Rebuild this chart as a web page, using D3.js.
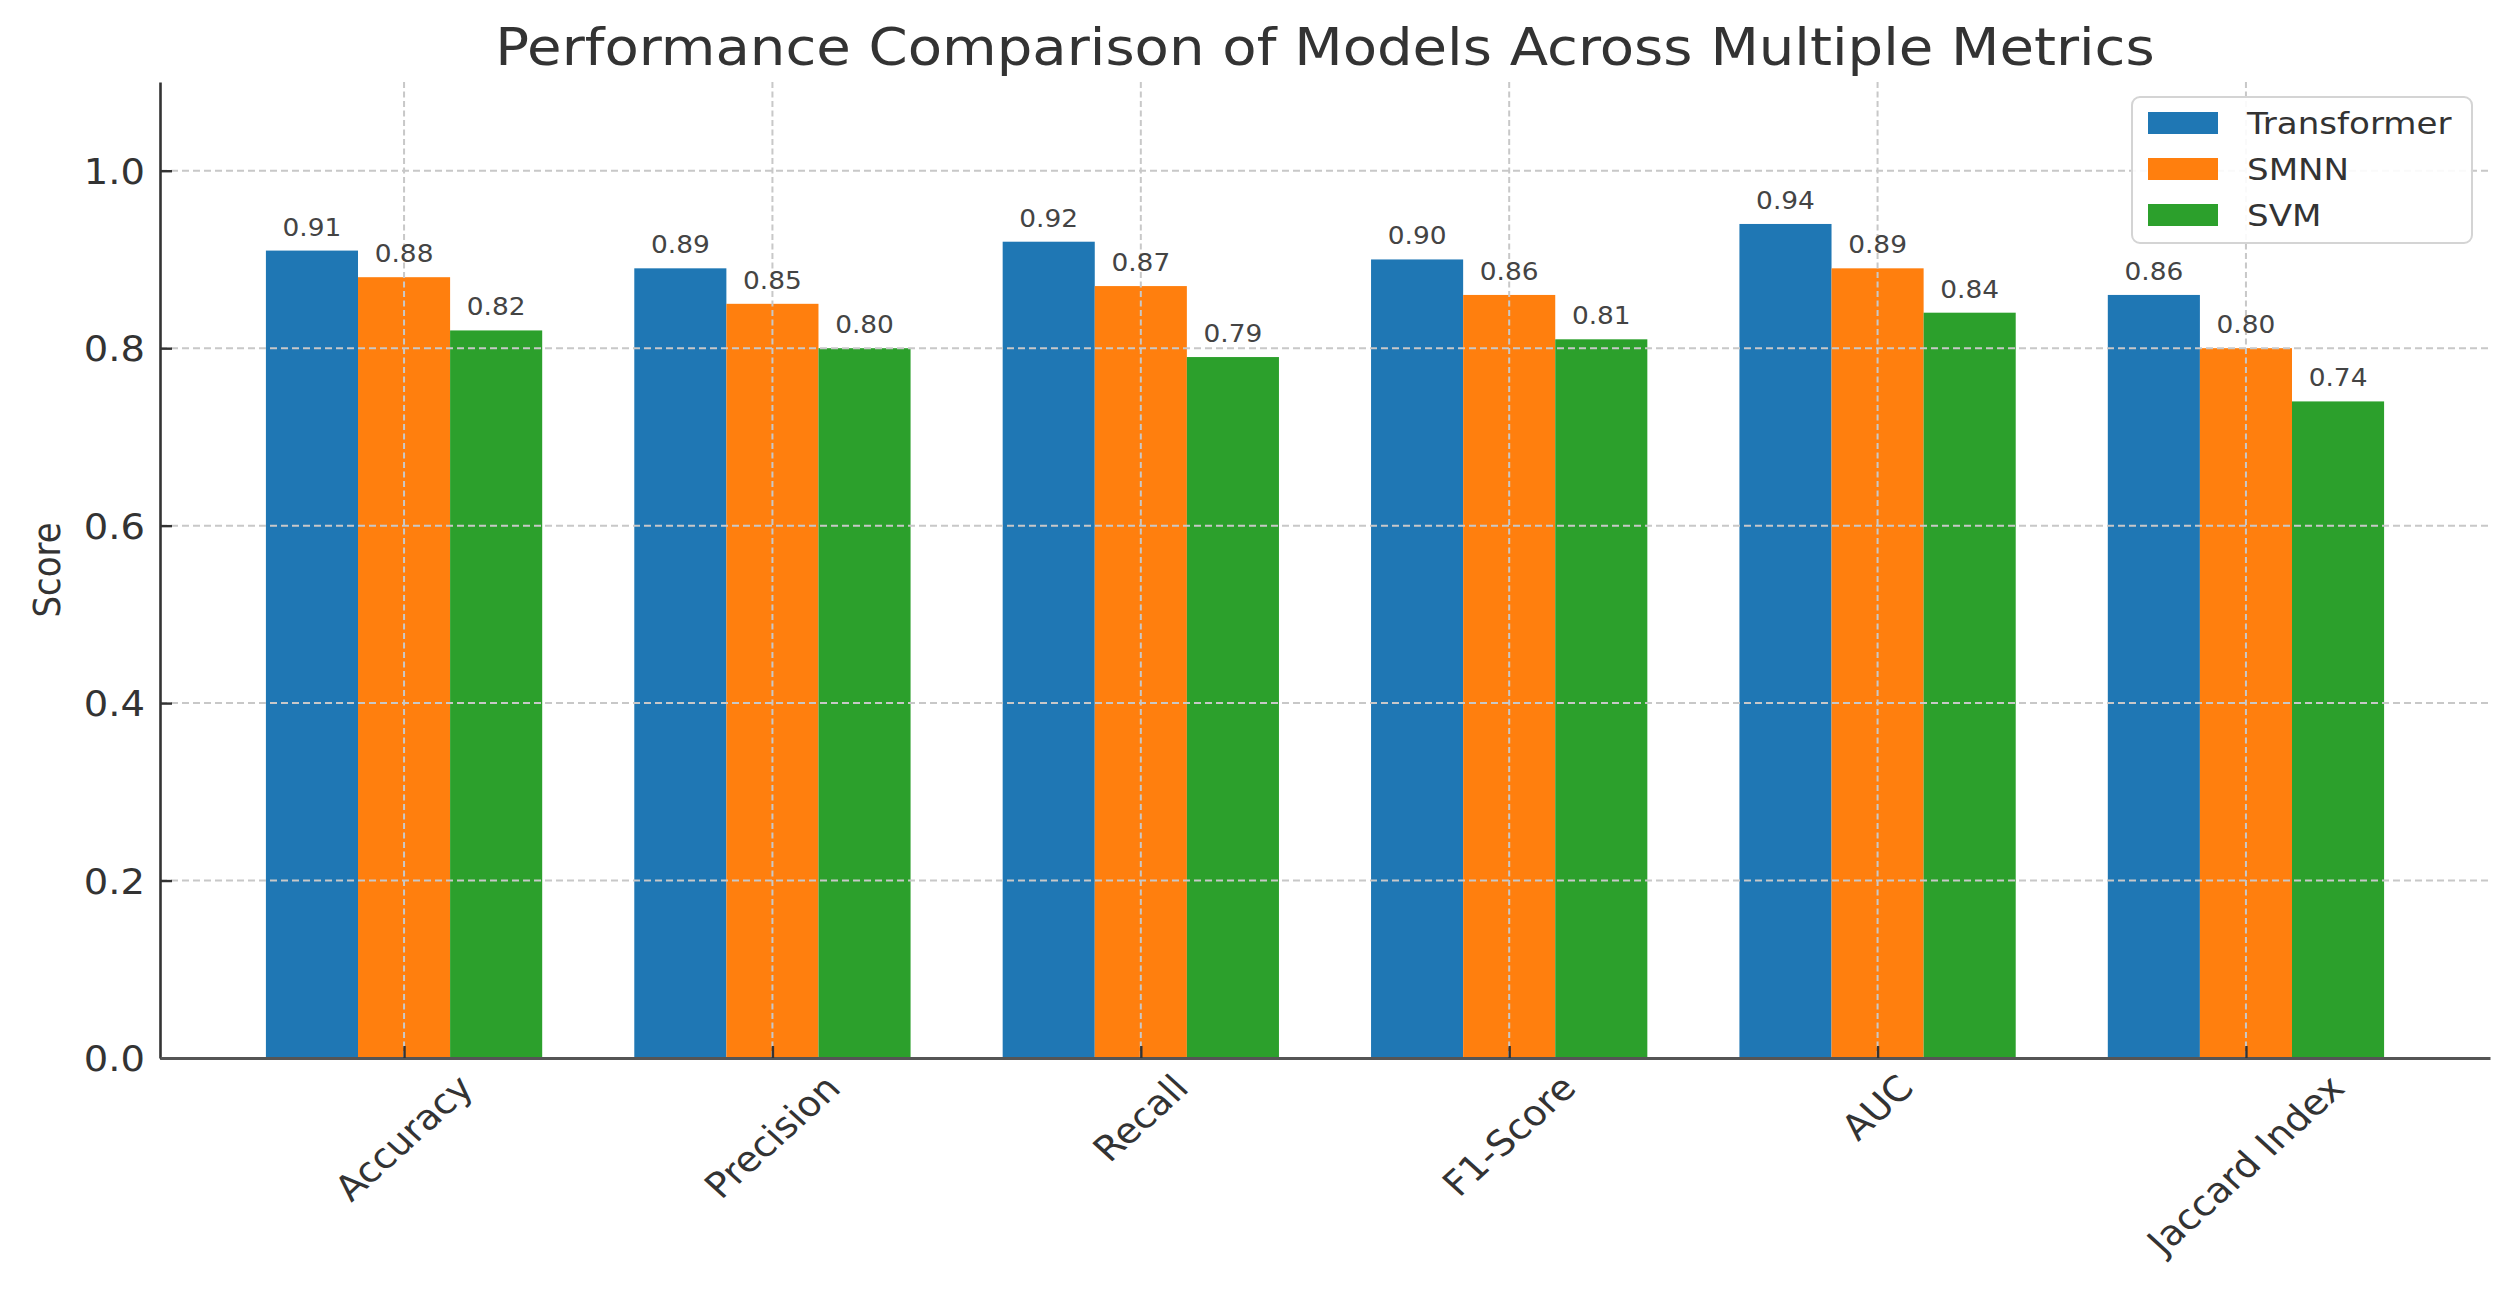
<!DOCTYPE html>
<html>
<head>
<meta charset="utf-8">
<script src="https://cdn.jsdelivr.net/npm/d3@7"></script>
<style>
  html, body { margin: 0; padding: 0; background: #ffffff; }
  svg { display: block; font-family: "DejaVu Sans", sans-serif; }
</style>
</head>
<body>
<svg id="chart" width="2507" height="1296"></svg>
<script>
// ---- data ----
const categories = ["Accuracy", "Precision", "Recall", "F1-Score", "AUC", "Jaccard Index"];
const seriesNames = ["Transformer", "SMNN", "SVM"];
const transformerScores = [0.91, 0.89, 0.92, 0.90, 0.94, 0.86];
const smnnScores = [0.88, 0.85, 0.87, 0.86, 0.89, 0.80];
const svmScores = [0.82, 0.80, 0.79, 0.81, 0.84, 0.74];
const yTickValues = [0.0, 0.2, 0.4, 0.6, 0.8, 1.0];
const titleText = "Performance Comparison of Models Across Multiple Metrics";
const yLabelText = "Score";

(function () {
const seriesValues = [transformerScores, smnnScores, svmScores];
const colors = ["#1f77b4", "#ff7f0e", "#2ca02c"];

// ---- layout ----
const W = 2507, H = 1296;
const pLeft = 160, pRight = 2490, pTop = 82, pBottom = 1058;
const SX = 1.1; // horizontal text stretch of the reference
const barW = 0.25;

const svg = d3.select("#chart");
svg.append("rect").attr("width", W).attr("height", H).attr("fill", "#fff");

const x = d3.scaleLinear().domain([-0.6625, 5.6625]).range([pLeft, pRight]);
const y = d3.scaleLinear().domain([0, 1.1]).range([pBottom, pTop]);

// ---- bars ----
const bars = svg.append("g");
seriesValues.forEach((vals, s) => {
  bars.selectAll(null)
    .data(vals)
    .enter()
    .append("rect")
    .attr("x", (d, i) => x(i + (s - 1) * barW - barW / 2))
    .attr("width", (d, i) => x(i + (s - 1) * barW + barW / 2) - x(i + (s - 1) * barW - barW / 2))
    .attr("y", d => y(d))
    .attr("height", d => y(0) - y(d))
    .attr("fill", colors[s]);
});

// ---- grid ----
const grid = svg.append("g");
grid.selectAll(null).data(yTickValues).enter().append("line")
  .attr("x1", pLeft).attr("x2", pRight)
  .attr("y1", d => y(d)).attr("y2", d => y(d))
  .attr("stroke", "#c8c8c8").attr("stroke-width", 2)
  .attr("stroke-dasharray", "7,4");
grid.selectAll(null).data(categories).enter().append("line")
  .attr("x1", (d, i) => x(i)).attr("x2", (d, i) => x(i))
  .attr("y1", pTop).attr("y2", pBottom)
  .attr("stroke", "#c8c8c8").attr("stroke-width", 2)
  .attr("stroke-dasharray", "6,3.5");

// ---- axes ----
const yAxis = d3.axisLeft(y).tickValues(yTickValues).tickFormat(d3.format(".1f"))
  .tickSizeInner(-12).tickSizeOuter(0).tickPadding(15);
const gy = svg.append("g").attr("transform", `translate(${pLeft},0)`).call(yAxis);
gy.select(".domain").attr("stroke", "#333").attr("stroke-width", 2.6);
gy.selectAll(".tick line").attr("stroke", "#333").attr("stroke-width", 2.4);
gy.selectAll(".tick text")
  .attr("x", null).attr("dy", "0.36em")
  .attr("transform", "translate(-15,0) scale(" + SX + ",1)")
  .attr("font-size", 35).attr("fill", "#333")
  .attr("font-family", "DejaVu Sans").attr("text-anchor", "end");

const xAxis = d3.axisBottom(x).tickValues(d3.range(categories.length))
  .tickFormat(() => "").tickSizeInner(-12).tickSizeOuter(0);
const gx = svg.append("g").attr("transform", `translate(0,${pBottom})`).call(xAxis);
gx.select(".domain").attr("stroke", "#555").attr("stroke-width", 3);
gx.selectAll(".tick line").attr("stroke", "#333").attr("stroke-width", 2.4);

// rotated category labels
const xl = svg.append("g");
categories.forEach((c, i) => {
  const t = xl.append("text")
    .attr("font-size", 35).attr("fill", "#333")
    .attr("text-anchor", "middle").attr("dominant-baseline", "central")
    .text(c);
  const L = t.node().getComputedTextLength();
  const cy = 1072 + (L + 27) * 0.3536;
  t.attr("transform", `translate(${x(i)},${cy}) scale(${SX},1) rotate(-45)`);
});

// ---- value labels ----
const vl = svg.append("g");
seriesValues.forEach((vals, s) => {
  vl.selectAll(null).data(vals).enter().append("text")
    .attr("transform", (d, i) => `translate(${x(i + (s - 1) * barW)},${y(d) - 15}) scale(${SX},1)`)
    .attr("text-anchor", "middle")
    .attr("font-size", 24).attr("fill", "#444")
    .text(d => d3.format(".2f")(d));
});

// ---- title & y label ----
svg.append("text")
  .attr("transform", `translate(${(pLeft + pRight) / 2},65) scale(${SX},1)`)
  .attr("text-anchor", "middle").attr("font-size", 51).attr("fill", "#333")
  .text(titleText);

svg.append("text")
  .attr("transform", `translate(60,${(pTop + pBottom) / 2}) scale(${SX},1) rotate(-90)`)
  .attr("text-anchor", "middle").attr("font-size", 34).attr("fill", "#333")
  .text(yLabelText);

// ---- legend ----
const lg = svg.append("g");
lg.append("rect")
  .attr("x", 2132).attr("y", 97).attr("width", 340).attr("height", 146)
  .attr("rx", 8).attr("ry", 8)
  .attr("fill", "#fff").attr("fill-opacity", 0.9)
  .attr("stroke", "#d4d4d4").attr("stroke-width", 2);
seriesNames.forEach((n, s) => {
  const rowY = 112 + s * 46;
  lg.append("rect").attr("x", 2148).attr("y", rowY).attr("width", 70).attr("height", 22)
    .attr("fill", colors[s]);
  lg.append("text")
    .attr("transform", `translate(2247,${rowY + 22}) scale(${SX},1)`)
    .attr("font-size", 31).attr("fill", "#333")
    .text(n);
});
})();
</script>
</body>
</html>
